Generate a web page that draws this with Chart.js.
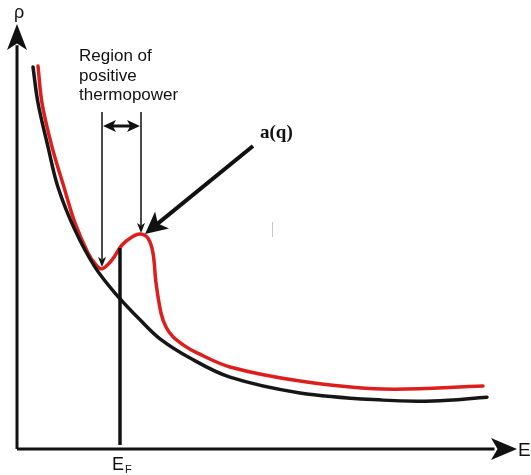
<!DOCTYPE html>
<html>
<head>
<meta charset="utf-8">
<script src="https://cdn.jsdelivr.net/npm/chart.js@4.4.1/dist/chart.umd.min.js"></script>
<style>
  html, body { margin: 0; padding: 0; background: #fff; }
  #wrap { width: 531px; height: 475px; }
</style>
</head>
<body>
<div id="wrap"><canvas id="chart" width="531" height="475"></canvas></div>
<script>
// plain resistivity rho(E), black curve
const blackE   = [0.32, 0.42, 0.62, 0.82, 1.16, 1.56, 1.96, 2.46, 2.86, 3.46, 4.26, 5.66, 7.32, 8.32, 9.40]
const blackRho = [8.99, 8.14, 7.11, 6.16, 5.15, 4.28, 3.67, 3.04, 2.59, 2.14, 1.69, 1.32, 1.15, 1.13, 1.22]

// resistivity with the a(q) bump, red curve
const redE   = [0.42, 0.50, 0.70, 0.94, 1.16, 1.42, 1.58, 1.70, 1.90, 2.10, 2.30, 2.46, 2.62, 2.72, 2.78, 2.88, 2.98, 3.12, 3.36, 3.60, 4.26, 5.66, 7.32, 9.32]
const redRho = [9.01, 8.14, 7.11, 6.16, 5.32, 4.61, 4.33, 4.24, 4.45, 4.80, 4.99, 5.06, 4.96, 4.61, 3.91, 3.20, 2.87, 2.64, 2.42, 2.26, 1.93, 1.60, 1.41, 1.48]

// markers on the E axis
const fermiE = 2.06
const regionStartE = 1.70
const regionEndE = 2.48

const toPoints = (xs, ys) => xs.map((x, i) => ({ x: x, y: ys[i] }))

function arrowHead(ctx, x, y, angle, len, half) {
  ctx.save()
  ctx.translate(x, y)
  ctx.rotate(angle)
  ctx.beginPath()
  ctx.moveTo(0, 0)
  ctx.lineTo(-len, -half)
  ctx.lineTo(-len * 0.75, 0)
  ctx.lineTo(-len, half)
  ctx.closePath()
  ctx.fill()
  ctx.restore()
}

const sketch = {
  id: 'sketch',
  afterDraw(chart) {
    const ctx = chart.ctx
    const xs = chart.scales.x
    const ys = chart.scales.y
    const X = v => xs.getPixelForValue(v)
    const Y = v => ys.getPixelForValue(v)
    const ox = X(0), oy = Y(0)

    ctx.save()
    ctx.fillStyle = '#111'
    ctx.strokeStyle = '#111'

    // axes
    ctx.lineWidth = 3
    ctx.beginPath()
    ctx.moveTo(ox, oy)
    ctx.lineTo(ox, Y(9.5))
    ctx.moveTo(ox, oy)
    ctx.lineTo(X(9.55), oy)
    ctx.stroke()
    arrowHead(ctx, ox, Y(10), -Math.PI / 2, 26, 10)
    arrowHead(ctx, X(10), oy, 0, 26, 11)

    ctx.font = '18px "Liberation Sans", Arial, sans-serif'
    ctx.textBaseline = 'alphabetic'
    ctx.textAlign = 'center'
    ctx.fillText('ρ', ox + 2, 18)
    ctx.textAlign = 'left'
    ctx.font = '19px "Liberation Sans", Arial, sans-serif'
    ctx.fillText('E', X(10) + 1, oy + 7)

    // Fermi level
    ctx.lineWidth = 3.5
    ctx.beginPath()
    ctx.moveTo(X(fermiE), oy - 4)
    ctx.lineTo(X(fermiE), Y(4.73))
    ctx.stroke()
    ctx.font = '18px "Liberation Sans", Arial, sans-serif'
    ctx.fillText('E', X(fermiE) - 8, 470)
    ctx.font = '11px "Liberation Sans", Arial, sans-serif'
    ctx.fillText('F', X(fermiE) + 5, 473)

    // region of positive thermopower
    const topY = Y(7.93)
    ctx.lineWidth = 1.5
    ctx.beginPath()
    ctx.moveTo(X(regionStartE), topY)
    ctx.lineTo(X(regionStartE), Y(4.28) - 8)
    ctx.moveTo(X(regionEndE), topY)
    ctx.lineTo(X(regionEndE), Y(5.08) - 8)
    ctx.stroke()
    arrowHead(ctx, X(regionStartE), Y(4.28), Math.PI / 2, 10, 4)
    arrowHead(ctx, X(regionEndE), Y(5.08), Math.PI / 2, 10, 4)

    const dy = Y(7.6)
    ctx.lineWidth = 3
    ctx.beginPath()
    ctx.moveTo(X(regionStartE) + 8, dy)
    ctx.lineTo(X(regionEndE) - 8, dy)
    ctx.stroke()
    arrowHead(ctx, X(regionStartE) + 1, dy, Math.PI, 13, 6)
    arrowHead(ctx, X(regionEndE) - 1, dy, 0, 13, 6)

    ctx.font = '17px "Liberation Sans", Arial, sans-serif'
    ctx.textAlign = 'left'
    ctx.fillText('Region of', 79, 61)
    ctx.fillText('positive', 79, 81)
    ctx.fillText('thermopower', 79, 100)

    // a(q) pointer
    const tipX = X(2.56), tipY = Y(5.06)
    const tailX = 253, tailY = 146
    const ang = Math.atan2(tipY - tailY, tipX - tailX)
    ctx.lineWidth = 4
    ctx.beginPath()
    ctx.moveTo(tailX, tailY)
    ctx.lineTo(tipX - 14 * Math.cos(ang), tipY - 14 * Math.sin(ang))
    ctx.stroke()
    arrowHead(ctx, tipX, tipY, ang, 22, 11)

    ctx.font = 'bold 19px "Liberation Serif", "Times New Roman", serif'
    ctx.fillText('a(q)', 260, 138)

    // faint stray mark
    ctx.strokeStyle = '#c8c8c8'
    ctx.lineWidth = 1
    ctx.beginPath()
    ctx.moveTo(272.5, 222)
    ctx.lineTo(272.5, 237)
    ctx.stroke()

    ctx.restore()
  }
}

new Chart(document.getElementById('chart'), {
  type: 'scatter',
  data: {
    datasets: [
      {
        label: 'rho',
        data: toPoints(blackE, blackRho),
        showLine: true,
        borderColor: '#161616',
        borderWidth: 3.5,
        pointRadius: 0,
        tension: 0.35,
        borderCapStyle: 'round'
      },
      {
        label: 'rho with a(q)',
        data: toPoints(redE, redRho),
        showLine: true,
        borderColor: '#dc1f1c',
        borderWidth: 3.5,
        pointRadius: 0,
        tension: 0.35,
        borderCapStyle: 'round'
      }
    ]
  },
  options: {
    responsive: false,
    animation: false,
    layout: { padding: { left: 17, right: 14, top: 24, bottom: 26 } },
    plugins: {
      legend: { display: false },
      tooltip: { enabled: false }
    },
    scales: {
      x: { type: 'linear', min: 0, max: 10, display: false },
      y: { type: 'linear', min: 0, max: 10, display: false }
    }
  },
  plugins: [sketch]
})
</script>
</body>
</html>
